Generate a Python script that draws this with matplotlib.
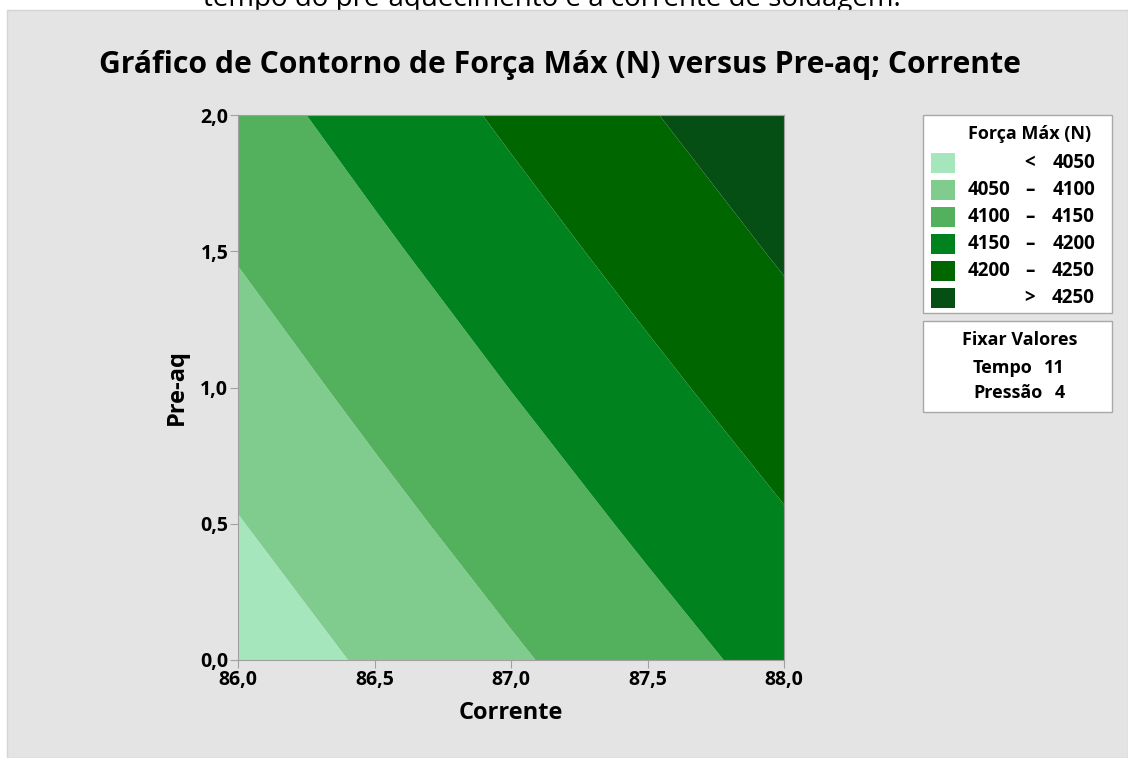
import matplotlib
matplotlib.use("Agg")
import matplotlib.pyplot as plt
from matplotlib.patches import Rectangle
import numpy as np

plt.rcParams['font.family'] = ['Open Sans', 'DejaVu Sans']

# dados (Força Máx em N, estimada nos nós da grade)
corrente = [86.0, 86.5, 87.0, 87.5, 88.0]
pre_aq = [0.0, 0.5, 1.0, 1.5, 2.0]
forca = [  # linhas = Pre-aq, colunas = Corrente
    [4020.5, 4057.1, 4093.5, 4129.8, 4166.0],
    [4048.0, 4085.2, 4122.2, 4159.0, 4195.8],
    [4075.5, 4113.2, 4150.8, 4188.3, 4225.6],
    [4103.0, 4141.3, 4179.5, 4217.5, 4255.4],
    [4130.5, 4169.4, 4208.1, 4246.7, 4285.2],
]
niveis = [4000, 4050, 4100, 4150, 4200, 4250, 4300]
cores = ['#a6e6bc', '#80cc8f', '#53b05c', '#00821f', '#006600', '#054e14']
faixas = [('', '<', '4050'), ('4050', '–', '4100'), ('4100', '–', '4150'),
          ('4150', '–', '4200'), ('4200', '–', '4250'), ('', '>', '4250')]
fixos = [('Tempo', '11'), ('Pressão', '4')]

W, H = 1128, 758
fig = plt.figure(figsize=(W / 100, H / 100), dpi=100)


def px(x, y):
    # pixel (a partir do topo) -> coordenadas da figura
    return x / W, 1 - y / H


# legenda cortada do documento, por trás do painel cinza
fig.text(*px(552, 6), 'tempo do pré-aquecimento e a corrente de soldagem.',
         ha='center', va='baseline', fontsize=20, color='black', zorder=-2)
fig.patches.append(Rectangle(px(7, 758), (W - 7) / W, (758 - 10) / H,
                             transform=fig.transFigure, facecolor='#e4e4e4',
                             edgecolor='#d4d4d4', lw=1, zorder=-1))

ax = fig.add_axes([238 / W, 1 - 660 / H, (784 - 238) / W, (660 - 115) / H])
X, Y = np.meshgrid(corrente, pre_aq)
ax.contourf(X, Y, np.array(forca), levels=niveis, colors=cores, antialiased=True)
ax.set_xlim(86, 88)
ax.set_ylim(0, 2)
ax.set_xticks([86.0, 86.5, 87.0, 87.5, 88.0])
ax.set_yticks([0.0, 0.5, 1.0, 1.5, 2.0])
ax.set_xticklabels([f'{v:.1f}'.replace('.', ',') for v in ax.get_xticks()])
ax.set_yticklabels([f'{v:.1f}'.replace('.', ',') for v in ax.get_yticks()])
for s in ax.spines.values():
    s.set_color('#a0a0a0')
ax.tick_params(length=6, color='#a0a0a0', labelsize=14, pad=1)
for lab in ax.get_xticklabels() + ax.get_yticklabels():
    lab.set_fontweight('bold')

ax.set_xlabel('Corrente', fontsize=17, fontweight='bold', labelpad=8)
ax.set_ylabel('Pre-aq', fontsize=17, fontweight='bold', labelpad=8)
fig.text(*px(560, 73), 'Gráfico de Contorno de Força Máx (N) versus Pre-aq; Corrente',
         ha='center', va='baseline', fontsize=21.7, fontweight='bold')

# caixa da legenda
fig.patches.append(Rectangle(px(923, 313), 189 / W, (313 - 115) / H,
                             transform=fig.transFigure, facecolor='white',
                             edgecolor='#a8a8a8', lw=1))
fig.text(*px(1030, 134), 'Força Máx (N)', ha='center', va='center',
         fontsize=13, fontweight='bold')
for i, (a, sep, b) in enumerate(faixas):
    yc = 163 + i * 27
    fig.patches.append(Rectangle(px(931, yc + 10), 24 / W, 20 / H,
                                 transform=fig.transFigure, facecolor=cores[i],
                                 edgecolor='none'))
    fig.text(*px(1010, yc), a, ha='right', va='center', fontsize=13.5, fontweight='bold')
    fig.text(*px(1030, yc), sep, ha='center', va='center', fontsize=13.5, fontweight='bold')
    fig.text(*px(1095, yc), b, ha='right', va='center', fontsize=13.5, fontweight='bold')

fig.patches.append(Rectangle(px(923, 412), 189 / W, (412 - 321) / H,
                             transform=fig.transFigure, facecolor='white',
                             edgecolor='#a8a8a8', lw=1))
fig.text(*px(1020, 340), 'Fixar Valores', ha='center', va='center',
         fontsize=13, fontweight='bold')
for i, (nome, val) in enumerate(fixos):
    yc = 368 + i * 25
    fig.text(*px(973, yc), nome, ha='left', va='center', fontsize=13, fontweight='bold')
    fig.text(*px(1065, yc), val, ha='right', va='center', fontsize=13, fontweight='bold')

fig.savefig('out.png', dpi=100)
